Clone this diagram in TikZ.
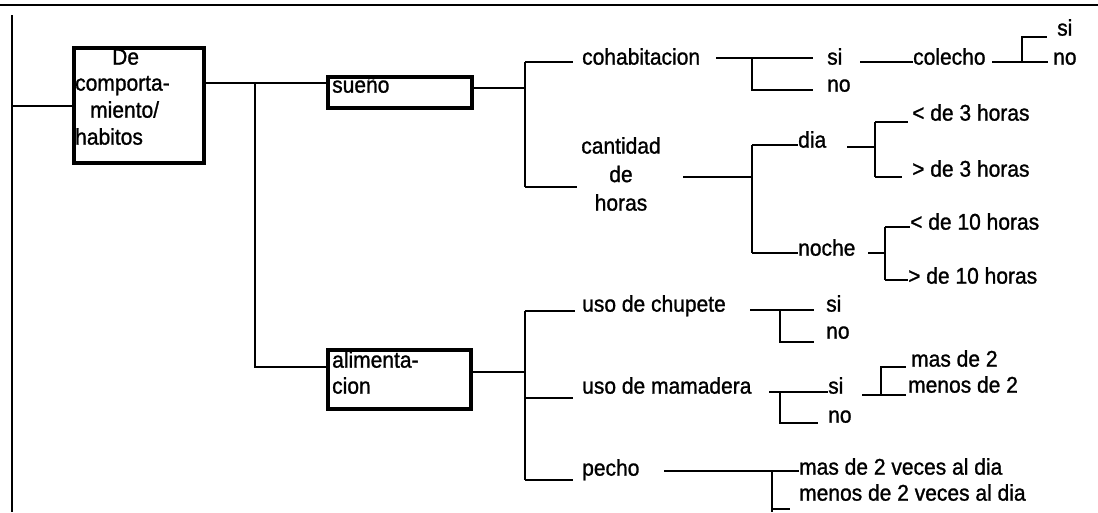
\documentclass[tikz,border=0pt]{standalone}
\usepackage{graphicx}
\usepackage{fontspec}
\setmainfont{Liberation Sans}
\newfontfamily\lblfont{Liberation Sans}[FakeBold=1.2]
\newcommand\sy[1]{\scalebox{1}[1.08]{#1}}
\begin{document}
\begin{tikzpicture}[x=1pt,y=-1pt,
  conn/.style={line width=1.8pt},
  bigbox/.style={draw,line width=3.8pt,inner sep=0pt,anchor=north west},
  lbl/.style={anchor=mid west,inner sep=0pt,font=\lblfont\fontsize{21}{24}\selectfont},
  lblc/.style={inner sep=0pt,align=center,font=\lblfont\fontsize{21}{28.5}\selectfont}]
\useasboundingbox (0,0) rectangle (1098,512);
% frame lines
\coordinate (TL) at (0,5); \coordinate (TR) at (1098,5);
\draw[conn] (TL) -- (TR);
\coordinate (LV0) at (12,15); \coordinate (LV1) at (12,512);
\draw[conn] (LV0) -- (LV1);
% boxes
\node[bigbox,minimum width=130pt,minimum height=115pt] (main) at (72,46) {};
\node[lbl] (t1) at (112,62) {\sy{De}};
\node[lbl] (t2) at (75,88) {\sy{comporta-}};
\node[lbl] (t3) at (90,115) {\sy{miento/}};
\node[lbl] (t4) at (75,142) {\sy{habitos}};
\node[bigbox,minimum width=144pt,minimum height=31pt] (sueno) at (326,75) {};
\node[lbl] (tsueno) at (332,90) {\sy{sueño}};
\node[bigbox,minimum width=143pt,minimum height=59pt] (alim) at (326,348) {};
\node[lbl] (ta1) at (332,365) {\sy{alimenta-}};
\node[lbl] (ta2) at (332,391) {\sy{cion}};
% labels
\node[lbl] (cohab) at (582,62) {\sy{cohabitacion}};
\node[lblc] (cant) at (621,174) {\sy{cantidad}\\\sy{de}\\\sy{horas}};
\node[lbl] (si1) at (827,62) {\sy{si}};
\node[lbl] (no1) at (827,89) {\sy{no}};
\node[lbl] (colecho) at (913,62) {\sy{colecho}};
\node[lbl] (si2) at (1057,33) {\sy{si}};
\node[lbl] (no2) at (1053,62) {\sy{no}};
\node[lbl] (dia) at (798,145) {\sy{dia}};
\node[lbl] (lt3) at (912,118) {\sy{< de 3 horas}};
\node[lbl] (gt3) at (912,174) {\sy{> de 3 horas}};
\node[lbl] (noche) at (798,253) {\sy{noche}};
\node[lbl] (lt10) at (910,227) {\sy{< de 10 horas}};
\node[lbl] (gt10) at (908,281) {\sy{> de 10 horas}};
\node[lbl] (chup) at (582,309) {\sy{uso de chupete}};
\node[lbl] (si3) at (826,309) {\sy{si}};
\node[lbl] (no3) at (826,336) {\sy{no}};
\node[lbl] (mama) at (582,391) {\sy{uso de mamadera}};
\node[lbl] (si4) at (828,391) {\sy{si}};
\node[lbl] (no4) at (828,420) {\sy{no}};
\node[lbl] (mas2) at (911,364) {\sy{mas de 2}};
\node[lbl] (menos2) at (908,390) {\sy{menos de 2}};
\node[lbl] (pecho) at (582,473) {\sy{pecho}};
\node[lbl] (masv) at (799,472) {\sy{mas de 2 veces al dia}};
\node[lbl] (menosv) at (799,498) {\sy{menos de 2 veces al dia}};
% junction coordinates
\coordinate (j1) at (255,83);
\coordinate (j2) at (525,88);
\coordinate (j3) at (752,58);
\coordinate (j4) at (752,177);
\coordinate (j5) at (875,147);
\coordinate (j6) at (885,253);
\coordinate (j7) at (1022,62);
\coordinate (j8) at (525,372);
\coordinate (j9) at (780,310);
\coordinate (j10) at (780,392);
\coordinate (j11) at (881,395);
\coordinate (j12) at (772,471);
% connectors
\draw[conn] (LV0 |- 0,106) -- (main.west |- 0,106);
\draw[conn] (main.east |- j1) -- (j1) -- (sueno.west |- j1);
\draw[conn] (j1) |- (alim.west |- 0,367);
\draw[conn] (sueno.east |- j2) -- (j2);
\draw[conn] (j2 |- 0,62) -- (j2 |- 0,187);
\draw[conn] (j2 |- 0,62) -- (573,62) coordinate (c1);
\draw[conn] (j2 |- 0,187) -- (577,187) coordinate (c2);
% cohabitacion
\draw[conn] (716,58) -- (j3) -- (813,58) coordinate (c3);
\draw[conn] (j3) -- (752,90) -- (813,90) coordinate (c4);
\draw[conn] (860,62) -- (colecho.west |- 0,62);
\draw[conn] (992,62) -- (j7) -- (1048,62) coordinate (c5);
\draw[conn] (j7) -- (1022,37) -- (1047,37) coordinate (c6);
% cantidad de horas
\draw[conn] (683,177) -- (j4);
\draw[conn] (752,145) -- (752,253);
\draw[conn] (752,145) -- (dia.west |- 0,145);
\draw[conn] (752,253) -- (noche.west |- 0,253);
\draw[conn] (847,147) -- (j5);
\draw[conn] (875,122) -- (875,177);
\draw[conn] (875,122) -- (908,122);
\draw[conn] (875,177) -- (902,177);
\draw[conn] (868,253) -- (j6);
\draw[conn] (885,227) -- (885,280);
\draw[conn] (885,227) -- (lt10.west |- 0,227);
\draw[conn] (885,280) -- (gt10.west |- 0,280);
% alimentacion
\draw[conn] (alim.east |- j8) -- (j8);
\draw[conn] (525,311) -- (525,480);
\draw[conn] (525,311) -- (575,311);
\draw[conn] (525,398) -- (573,398);
\draw[conn] (525,480) -- (573,480);
\draw[conn] (750,310) -- (j9) -- (814,310);
\draw[conn] (j9) -- (780,342) -- (814,342);
\draw[conn] (769,392) -- (j10) -- (si4.west |- j10);
\draw[conn] (j10) -- (780,423) -- (818,423);
\draw[conn] (862,395) -- (j11) -- (906,395);
\draw[conn] (j11) -- (881,367) -- (906,367);
\draw[conn] (664,471) -- (j12) -- (masv.west |- j12);
\draw[conn] (j12) -- (772,512);
\draw[conn] (772,509) -- (790,509);
\end{tikzpicture}
\end{document}
